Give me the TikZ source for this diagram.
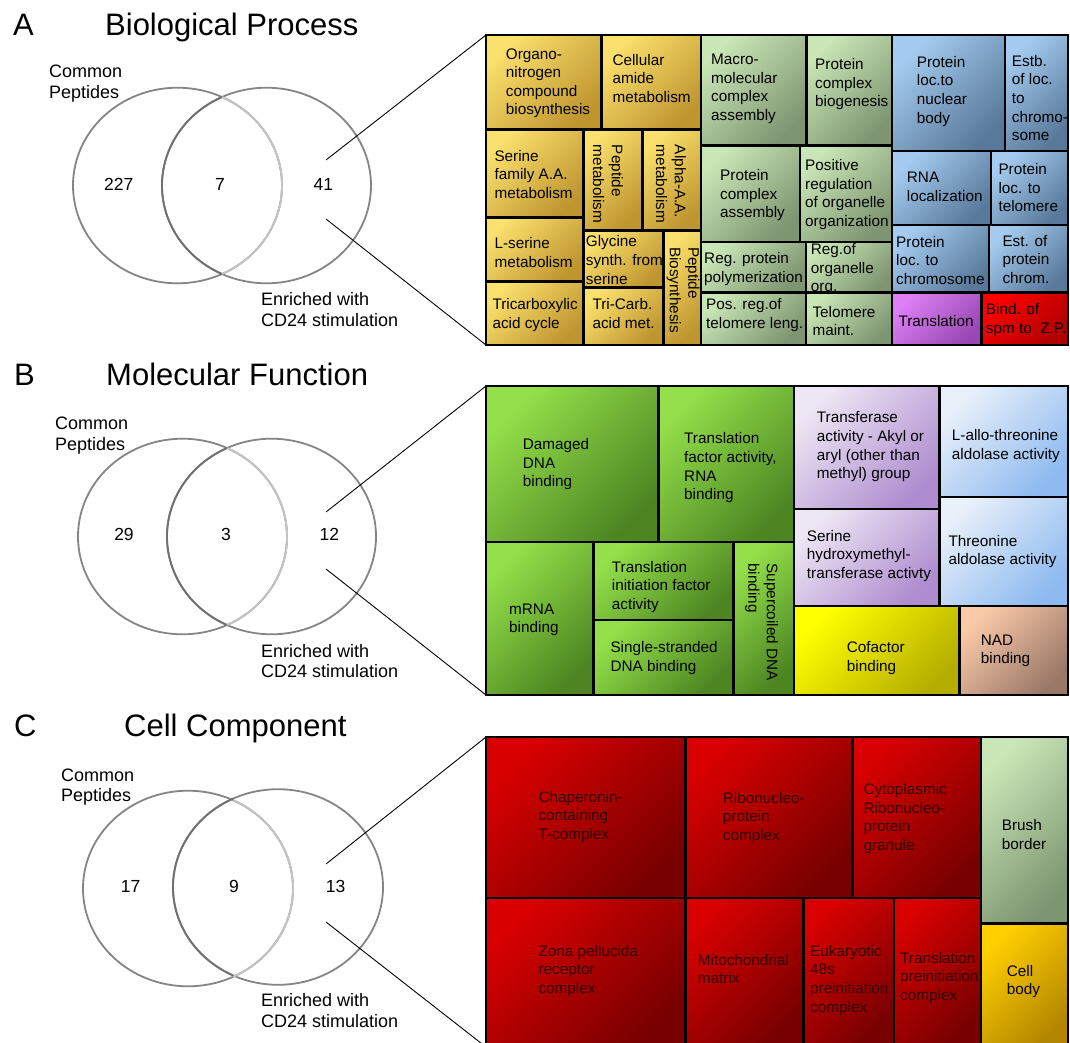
\documentclass[tikz,border=0pt]{standalone}
\usepackage{fontspec}
\setmainfont{Liberation Sans}
\definecolor{orL}{HTML}{FAE06C}\definecolor{orD}{HTML}{BF9530}
\definecolor{grL}{HTML}{C9E6B6}\definecolor{grD}{HTML}{7E9571}
\definecolor{blL}{HTML}{A5CCF0}\definecolor{blD}{HTML}{58799A}
\definecolor{puL}{HTML}{DD80F5}\definecolor{puD}{HTML}{9848B4}
\definecolor{rdL}{HTML}{FF0000}\definecolor{rdD}{HTML}{B00000}
\definecolor{lgL}{HTML}{94E04A}\definecolor{lgD}{HTML}{4C8522}
\definecolor{lpL}{HTML}{EDE6F4}\definecolor{lpD}{HTML}{AE8CCF}
\definecolor{lbL}{HTML}{E8F0FA}\definecolor{lbD}{HTML}{8EBAF0}
\definecolor{yeL}{HTML}{FFFF00}\definecolor{yeD}{HTML}{B5AE00}
\definecolor{naL}{HTML}{FACAA8}\definecolor{naD}{HTML}{9A7868}
\definecolor{crL}{HTML}{D80000}\definecolor{crD}{HTML}{780000}
\definecolor{ycL}{HTML}{FFD000}\definecolor{ycD}{HTML}{B38600}
\definecolor{ctext}{HTML}{300000}
\definecolor{vgray}{HTML}{858585}
\definecolor{vlite}{HTML}{C4C4C4}
\definecolor{vdark}{HTML}{707070}
\begin{document}
\begin{tikzpicture}[x=1pt,y=-1pt,
  bx/.style 2 args={draw=black, line width=2.2pt, top color=#1, bottom color=#2, shading angle=45},
  frame/.style={draw=black, line width=2.8pt},
  tmtext/.style={font=\fontsize{15.3}{18.6}\selectfont, align=left, inner sep=0pt, anchor=north west},
  tmrot/.style={font=\fontsize{15.3}{18.6}\selectfont, align=left, inner sep=0pt, anchor=center, rotate=-90},
  vlab/.style={font=\fontsize{18}{20.7}\selectfont, align=left, inner sep=0pt, anchor=north west},
  vnum/.style={font=\fontsize{17.5}{20}\selectfont, inner sep=0pt, anchor=base},
  head/.style={font=\fontsize{31}{34}\selectfont, inner sep=0pt, anchor=base west},
  vc/.style={draw=vgray, line width=1.8pt},
  vcl/.style={draw=vlite, line width=1.8pt},
  vcd/.style={draw=vdark, line width=1.8pt},
  conn/.style={draw=black, line width=0.9pt}]
\useasboundingbox (0,0) rectangle (1070,1042);
\fill[white] (0,0) rectangle (1070,1042);

% ================= Panel A =================
\node[head] (hA) at (13,35) {A};
\node[head] (tA) at (105,35) {Biological Process};
\draw[vc] (177.5,185.5) ellipse [x radius=104.5pt, y radius=97.8pt];
\draw[vc] (266.5,185.5) ellipse [x radius=104.5pt, y radius=97.8pt];
\draw[vcl] (222.2,273.9) arc [start angle=-64.7, end angle=64.7, x radius=104.5pt, y radius=97.8pt];
\draw[vcd] (221.8,97.1) arc [start angle=115.3, end angle=244.7, x radius=104.5pt, y radius=97.8pt];
\node[vnum] (nA1) at (118.7,190.7) {227};
\node[vnum] (nA2) at (220,190.7) {7};
\node[vnum] (nA3) at (323.3,190.7) {41};
\node[vlab] (cA) at (49,65) {Common\\Peptides};
\node[vlab] (eA) at (261,292.7) {Enriched with\\CD24 stimulation};

\path[bx={orL}{orD}] (486,35) rectangle (601.5,129.5);
\path[bx={orL}{orD}] (601.5,35) rectangle (701,129.5);
\path[bx={orL}{orD}] (486,129.5) rectangle (583.5,217.5);
\path[bx={orL}{orD}] (486,217.5) rectangle (583.5,281.5);
\path[bx={orL}{orD}] (486,281.5) rectangle (583.5,345);
\path[bx={orL}{orD}] (583.5,129.5) rectangle (642.5,230.5);
\path[bx={orL}{orD}] (642.5,129.5) rectangle (701,230.5);
\path[bx={orL}{orD}] (583.5,230.5) rectangle (663.5,287.5);
\path[bx={orL}{orD}] (583.5,287.5) rectangle (663.5,345);
\path[bx={orL}{orD}] (663.5,230.5) rectangle (701,345);
\path[bx={grL}{grD}] (701,35) rectangle (806.5,145.5);
\path[bx={grL}{grD}] (806.5,35) rectangle (892,145.5);
\path[bx={grL}{grD}] (701,145.5) rectangle (800,242);
\path[bx={grL}{grD}] (800,145.5) rectangle (892,242);
\path[bx={grL}{grD}] (701,242) rectangle (806,292.5);
\path[bx={grL}{grD}] (806,242) rectangle (892,292.5);
\path[bx={grL}{grD}] (701,292.5) rectangle (806,345);
\path[bx={grL}{grD}] (806,292.5) rectangle (892,345);
\path[bx={blL}{blD}] (892,35) rectangle (1005,151);
\path[bx={blL}{blD}] (1005,35) rectangle (1068,151);
\path[bx={blL}{blD}] (892,151) rectangle (991,225);
\path[bx={blL}{blD}] (991,151) rectangle (1068,225);
\path[bx={blL}{blD}] (892,225) rectangle (989,292.5);
\path[bx={blL}{blD}] (989,225) rectangle (1068,292.5);
\path[bx={puL}{puD}] (892,292.5) rectangle (981.5,345);
\path[bx={rdL}{rdD}] (981.5,292.5) rectangle (1068,345);
\draw[frame] (486,35) rectangle (1068,345);

\node[tmtext] (a01) at (505.7,48.3) {Organo-\\nitrogen\\compound\\biosynthesis};
\node[tmtext] (a02) at (612.3,54) {Cellular\\amide\\metabolism};
\node[tmtext] (a03) at (494.3,150) {Serine\\family A.A.\\metabolism};
\node[tmrot] (a04) at (608,184) {Peptide\\metabolism};
\node[tmrot] (a05) at (671,184) {Alpha-A.A.\\metabolism};
\node[tmtext] (a06) at (494.3,237.3) {L-serine\\metabolism};
\node[tmtext] (a07) at (492.3,298.3) {Tricarboxylic\\acid cycle};
\node[tmtext] (a08) at (585.7,235.7) {Glycine\\synth. from\\serine};
\node[tmtext] (a09) at (592.3,298.3) {Tri-Carb.\\acid met.};
\node[tmrot] (a10) at (683,290) {Peptide\\Biosynthesis};
\node[tmtext] (a11) at (711,54) {Macro-\\molecular\\complex\\assembly};
\node[tmtext] (a12) at (815,58.3) {Protein\\complex\\biogenesis};
\node[tmtext] (a13) at (720,169.3) {Protein\\complex\\assembly};
\node[tmtext] (a14) at (805,159.3) {Positive\\regulation\\of organelle\\organization};
\node[tmtext] (a15) at (704,252.7) {Reg. protein\\polymerization};
\node[tmtext] (a16) at (810.7,243.3) {Reg.of\\organelle\\org.};
\node[tmtext] (a17) at (706,298.3) {Pos. reg.of\\telomere leng.};
\node[tmtext] (a18) at (812.3,306) {Telomere\\maint.};
\node[tmtext] (a19) at (916.7,56) {Protein\\loc.to\\nuclear\\body};
\node[tmtext] (a20) at (1011.7,55) {Estb.\\of loc.\\to\\chromo-\\some};
\node[tmtext] (a21) at (906.7,171.7) {RNA\\localization};
\node[tmtext] (a22) at (998.3,163.3) {Protein\\loc. to\\telomere};
\node[tmtext] (a23) at (896,236) {Protein\\loc. to\\chromosome};
\node[tmtext] (a24) at (1002.3,235) {Est. of\\protein\\chrom.};
\node[tmtext] (a25) at (898.3,315) {Translation};
\node[tmtext] (a26) at (985.7,303.3) {Bind. of\\spm to\ \ Z.P.};

\coordinate (Au) at (326,160);
\coordinate (Ad) at (326,219);
\coordinate (Atl) at (486,35);
\coordinate (Abl) at (486,345);
\draw[conn] (Au) -- (Atl);
\draw[conn] (Ad) -- (Abl);

% ================= Panel B =================
\node[head] (hB) at (14,385.7) {B};
\node[head] (tB) at (106,385.7) {Molecular Function};
\draw[vc] (182.5,536.5) ellipse [x radius=104.5pt, y radius=97.8pt];
\draw[vc] (271.5,536.5) ellipse [x radius=104.5pt, y radius=97.8pt];
\draw[vcl] (227.2,624.9) arc [start angle=-64.7, end angle=64.7, x radius=104.5pt, y radius=97.8pt];
\draw[vcd] (226.8,448.1) arc [start angle=115.3, end angle=244.7, x radius=104.5pt, y radius=97.8pt];
\node[vnum] (nB1) at (124,540.7) {29};
\node[vnum] (nB2) at (226,540.7) {3};
\node[vnum] (nB3) at (329.3,540.7) {12};
\node[vlab] (cB) at (55,416.7) {Common\\Peptides};
\node[vlab] (eB) at (261,644) {Enriched with\\CD24 stimulation};

\path[bx={lgL}{lgD}] (486,386) rectangle (658.5,542);
\path[bx={lgL}{lgD}] (658.5,386) rectangle (794,542);
\path[bx={lgL}{lgD}] (486,542) rectangle (593.5,695);
\path[bx={lgL}{lgD}] (593.5,542) rectangle (733.5,620);
\path[bx={lgL}{lgD}] (593.5,620) rectangle (733.5,695);
\path[bx={lgL}{lgD}] (733.5,542) rectangle (794,695);
\path[bx={lpL}{lpD}] (794,386) rectangle (939.5,509);
\path[bx={lbL}{lbD}] (939.5,386) rectangle (1068,497);
\path[bx={lpL}{lpD}] (794,509) rectangle (939.5,606);
\path[bx={lbL}{lbD}] (939.5,497) rectangle (1068,606);
\path[bx={yeL}{yeD}] (794,606) rectangle (959.5,695);
\path[bx={naL}{naD}] (959.5,606) rectangle (1068,695);
\draw[frame] (486,386) rectangle (1068,695);

\node[tmtext] (b01) at (522.7,438.3) {Damaged\\DNA\\binding};
\node[tmtext] (b02) at (684,432.7) {Translation\\factor activity,\\RNA\\binding};
\node[tmtext] (b03) at (509,603.3) {mRNA\\binding};
\node[tmtext] (b04) at (611.7,561) {Translation\\initiation factor\\activity};
\node[tmtext] (b05) at (610.3,641.7) {Single-stranded\\DNA binding};
\node[tmrot] (b06) at (761.5,622) {Supercoiled DNA\\binding};
\node[tmtext] (b07) at (816.7,411.7) {Transferase\\activity - Akyl or\\aryl (other than\\methyl) group};
\node[tmtext] (b08) at (951.7,429.3) {L-allo-threonine\\aldolase activity};
\node[tmtext] (b09) at (806.7,530) {Serine\\hydroxymethyl-\\transferase activty};
\node[tmtext] (b10) at (948.3,535) {Threonine\\aldolase activity};
\node[tmtext] (b11) at (846.7,641.7) {Cofactor\\binding};
\node[tmtext] (b12) at (980.7,634.3) {NAD\\binding};

\coordinate (Bu) at (326,512);
\coordinate (Bd) at (326,569);
\coordinate (Btl) at (486,386);
\coordinate (Bbl) at (486,695);
\draw[conn] (Bu) -- (Btl);
\draw[conn] (Bd) -- (Bbl);

% ================= Panel C =================
\node[head] (hC) at (14,736.7) {C};
\node[head] (tC) at (124,736.7) {Cell Component};
\draw[vc] (188,888.5) ellipse [x radius=105pt, y radius=97.8pt];
\draw[vc] (278,887) ellipse [x radius=105pt, y radius=97.8pt];
\draw[vcl] (232.9,976.9) arc [start angle=-64.7, end angle=64.7, x radius=105pt, y radius=97.8pt];
\draw[vcd] (233.1,798.6) arc [start angle=115.3, end angle=244.7, x radius=105pt, y radius=97.8pt];
\node[vnum] (nC1) at (130.7,892.7) {17};
\node[vnum] (nC2) at (234,892.7) {9};
\node[vnum] (nC3) at (335.7,892.7) {13};
\node[vlab] (cC) at (61,768.3) {Common\\Peptides};
\node[vlab] (eC) at (261,993.3) {Enriched with\\CD24 stimulation};

\path[bx={crL}{crD}] (486,737) rectangle (685.5,898);
\path[bx={crL}{crD}] (685.5,737) rectangle (852.5,898);
\path[bx={crL}{crD}] (852.5,737) rectangle (981,898);
\path[bx={grL}{grD}] (981,737) rectangle (1068,923.5);
\path[bx={ycL}{ycD}] (981,923.5) rectangle (1068,1047);
\path[bx={crL}{crD}] (486,898) rectangle (685.5,1047);
\path[bx={crL}{crD}] (685.5,898) rectangle (803.5,1047);
\path[bx={crL}{crD}] (803.5,898) rectangle (894,1047);
\path[bx={crL}{crD}] (894,898) rectangle (981,1047);
\draw[frame] (486,737) rectangle (1068,1047);

\node[tmtext, text=ctext] (c01) at (538.3,791) {Chaperonin-\\containing\\T-complex};
\node[tmtext, text=ctext] (c02) at (722.7,791.7) {Ribonucleo-\\protein\\complex};
\node[tmtext, text=ctext] (c03) at (863.3,783.3) {Cytoplasmic\\Ribonucleo-\\protein\\granule};
\node[tmtext] (c04) at (1001.7,819.3) {Brush\\border};
\node[tmtext, text=ctext] (c05) at (538.3,945) {Zona pellucida\\receptor\\complex};
\node[tmtext, text=ctext] (c06) at (697.7,954) {Mitochondrial\\matrix};
\node[tmtext, text=ctext] (c07) at (810,945) {Eukaryotic\\48s\\preinitiation\\complex};
\node[tmtext, text=ctext] (c08) at (900,951.7) {Translation\\preinitiation\\complex};
\node[tmtext] (c09) at (1006.7,965) {Cell\\body};

\coordinate (Cu) at (326,864);
\coordinate (Cd) at (326,922);
\coordinate (Ctl) at (486,737);
\coordinate (Cbl) at (486,1047);
\draw[conn] (Cu) -- (Ctl);
\draw[conn] (Cd) -- (Cbl);
\end{tikzpicture}
\end{document}
